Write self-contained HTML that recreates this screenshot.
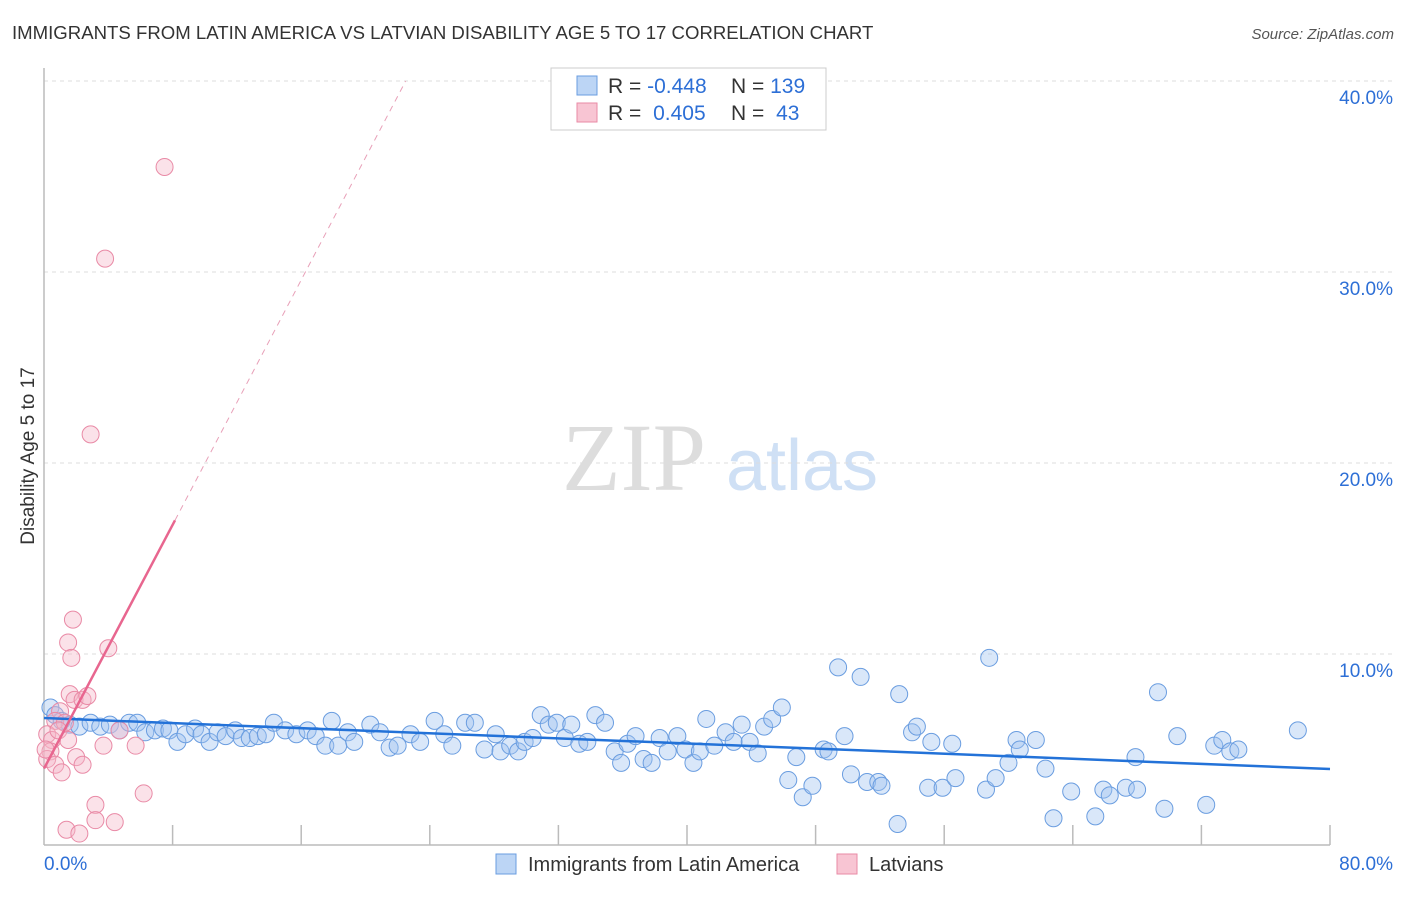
<!DOCTYPE html>
<html><head><meta charset="utf-8"><style>
body{margin:0;background:#fff;font-family:"Liberation Sans",sans-serif;}
</style></head><body>
<svg id="chart" width="1406" height="892" xmlns="http://www.w3.org/2000/svg" font-family="Liberation Sans, sans-serif">
<text x="12" y="39" font-size="18.6" fill="#333">IMMIGRANTS FROM LATIN AMERICA VS LATVIAN DISABILITY AGE 5 TO 17 CORRELATION CHART</text>
<text x="1394" y="39" font-size="15" fill="#555" text-anchor="end" font-style="italic">Source: ZipAtlas.com</text>
<g>
<text x="634" y="490" font-size="96" fill="#ddd" font-family="Liberation Serif, serif" text-anchor="middle">ZIP</text>
<text x="802" y="490" font-size="72" fill="#cfe0f5" text-anchor="middle">atlas</text>
</g>
<g id="grid"></g>
<g id="axes"></g>
<g id="marks"></g>
<text transform="translate(34,456) rotate(-90)" font-size="19" fill="#333" text-anchor="middle">Disability Age 5 to 17</text>
<g>
<rect x="551" y="68" width="275" height="62" fill="#fff" stroke="#ccc"/>
<rect x="577" y="76" width="20" height="19" fill="#bcd5f5" stroke="#6a9de0"/>
<rect x="577" y="103" width="20" height="19" fill="#f8c5d3" stroke="#e98aa6"/>
<text x="608" y="93" font-size="21" fill="#333">R = <tspan fill="#2d6fd6">-0.448</tspan></text>
<text x="731" y="93" font-size="21" fill="#333">N = <tspan fill="#2d6fd6">139</tspan></text>
<text x="608" y="120" font-size="21" fill="#333">R =  <tspan fill="#2d6fd6" dx="6">0.405</tspan></text>
<text x="731" y="120" font-size="21" fill="#333">N =  <tspan fill="#2d6fd6" dx="6">43</tspan></text>
</g>
<g>
<rect x="496" y="854" width="20" height="20" fill="#bcd5f5" stroke="#6a9de0"/>
<text x="528" y="871" font-size="20" fill="#333">Immigrants from Latin America</text>
<rect x="837" y="854" width="20" height="20" fill="#f8c5d3" stroke="#e98aa6"/>
<text x="869" y="871" font-size="20" fill="#333">Latvians</text>
</g>
</svg>
<script>
const blueX=[0.4,0.7,1.1,1.6,2.2,2.9,3.5,4.1,4.7,5.3,5.8,6.3,6.9,7.4,7.8,8.3,8.8,9.4,9.8,10.3,10.8,11.3,11.9,12.3,12.8,13.3,13.8,14.3,15.0,15.7,16.4,16.9,17.5,17.9,18.3,18.9,19.3,20.3,20.9,21.5,22.0,22.8,23.4,24.3,24.9,25.4,26.2,26.8,27.4,28.1,28.4,29.0,29.5,29.9,30.4,30.9,31.4,31.9,32.4,32.8,33.3,33.8,34.3,34.9,35.5,35.9,36.3,36.8,37.3,37.8,38.3,38.8,39.4,39.9,40.4,40.8,41.2,41.7,42.4,42.9,43.4,43.9,44.4,44.8,45.3,45.9,46.3,46.8,47.2,47.8,48.5,48.8,49.4,49.8,50.2,50.8,51.2,51.9,52.1,53.1,53.2,54.0,54.3,55.0,55.2,55.9,56.5,56.7,58.6,58.8,59.2,60.0,60.5,60.7,61.7,62.3,62.8,63.9,65.4,65.9,66.3,67.3,68.0,67.9,69.3,69.7,70.5,72.3,72.8,73.3,73.8,74.3,78.0];
const blueY=[7.2,6.8,6.5,6.3,6.2,6.4,6.2,6.3,6.0,6.4,6.4,5.9,6.0,6.1,6.0,5.4,5.8,6.1,5.8,5.4,5.9,5.7,6.0,5.6,5.6,5.7,5.8,6.4,6.0,5.8,6.0,5.7,5.2,6.5,5.2,5.9,5.4,6.3,5.9,5.1,5.2,5.8,5.4,6.5,5.8,5.2,6.4,6.4,5.0,5.8,4.9,5.2,4.9,5.4,5.6,6.8,6.3,6.4,5.6,6.3,5.3,5.4,6.8,6.4,4.9,4.3,5.3,5.7,4.5,4.3,5.6,4.9,5.7,5.0,4.3,4.9,6.6,5.2,5.9,5.4,6.3,5.4,4.8,6.2,6.6,7.2,3.4,4.6,2.5,3.1,5.0,4.9,9.3,5.7,3.7,8.8,3.3,3.3,3.1,1.1,7.9,5.9,6.2,3.0,5.4,3.0,5.3,3.5,2.9,9.8,3.5,4.3,5.5,5.0,5.5,4.0,1.4,2.8,1.5,2.9,2.6,3.0,2.9,4.6,8.0,1.9,5.7,2.1,5.2,5.5,4.9,5.0,6.0];
const pinkX=[7.5,3.8,2.9,1.8,1.5,1.7,4.0,1.6,1.9,2.4,2.7,1.0,0.7,1.3,0.2,0.5,0.9,1.5,0.4,0.2,0.7,1.1,2.0,2.4,3.7,5.7,6.2,3.2,3.2,4.4,1.4,2.2,0.1,4.7];
const pinkY=[35.5,30.7,21.5,11.8,10.6,9.8,10.3,7.9,7.6,7.6,7.8,7.0,6.5,6.4,5.8,5.5,6.0,5.5,4.9,4.5,4.2,3.8,4.6,4.2,5.2,5.2,2.7,2.1,1.3,1.2,0.8,0.6,5.0,6.0];
const yTicks=[10,20,30,40];
const yTickLabels=["10.0%","20.0%","30.0%","40.0%"];
const xTicks=[0,8,16,24,32,40,48,56,64,72,80];
const blueTrend=[6.65,3.98];
const pinkTrend=[4.0,17.0,40.0];
const pinkTrendX=[0,8.15,22.5];
const X=v=>44+v*16.075, Y=v=>845-v*19.1;
const NS="http://www.w3.org/2000/svg";
function mk(t,a,p){const e=document.createElementNS(NS,t);for(const k in a)e.setAttribute(k,a[k]);document.getElementById(p).appendChild(e);return e;}
yTicks.forEach((t,i)=>{
 const l=mk('line',{x1:44,x2:1394,y1:Y(t),y2:Y(t),stroke:'#ddd','stroke-dasharray':'4,4'},'grid');
 
 
 const tx=mk('text',{x:1393,y:Y(t)+23,'font-size':19,fill:'#2d6fd6','text-anchor':'end'},'grid');
 tx.textContent=yTickLabels[i];
 
 
});
let a=mk('line',{x1:44,x2:44,y1:68,y2:845,stroke:'#bbb','stroke-width':1.5},'axes');


a=mk('line',{x1:44,x2:1330,y1:845,y2:845,stroke:'#bbb','stroke-width':1.5},'axes');


xTicks.slice(1).forEach(t=>{const l=mk('line',{x1:X(t),x2:X(t),y1:825,y2:845,stroke:'#bbb','stroke-width':1.5},'axes');
 
 });
let t0=mk('text',{x:44,y:870,'font-size':19,fill:'#2d6fd6'},'axes');t0.textContent='0.0%';


t0=mk('text',{x:1393,y:870,'font-size':19,fill:'#2d6fd6','text-anchor':'end'},'axes');t0.textContent='80.0%';


blueX.forEach((x,i)=>{const c=mk('circle',{cx:X(x),cy:Y(blueY[i]),r:8.5,fill:'rgba(160,196,240,0.4)',stroke:'#6a9de0','stroke-width':1},'marks');
 
 });
pinkX.forEach((x,i)=>{const c=mk('circle',{cx:X(x),cy:Y(pinkY[i]),r:8.5,fill:'rgba(246,182,200,0.4)',stroke:'#e98aa6','stroke-width':1},'marks');
 
 });
let tl=mk('line',{x1:X(0),y1:Y(blueTrend[0]),x2:X(80),y2:Y(blueTrend[1]),stroke:'#2372d8','stroke-width':2.5},'marks');


tl=mk('line',{x1:X(pinkTrendX[0]),y1:Y(pinkTrend[0]),x2:X(pinkTrendX[1]),y2:Y(pinkTrend[1]),stroke:'#e8668f','stroke-width':2.5},'marks');


tl=mk('line',{x1:X(pinkTrendX[1]),y1:Y(pinkTrend[1]),x2:X(pinkTrendX[2]),y2:Y(pinkTrend[2]),stroke:'#e8a0b8','stroke-width':1,'stroke-dasharray':'6,5'},'marks');


</script>
</body></html>
